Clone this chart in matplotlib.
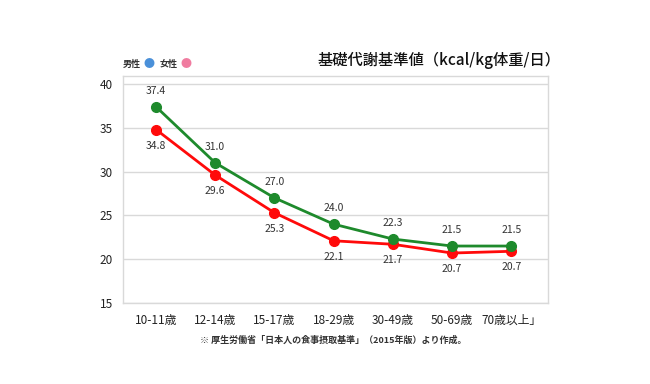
import matplotlib
matplotlib.use("Agg")
import matplotlib.pyplot as plt

plt.rcParams['font.family'] = ['Noto Sans CJK JP', 'DejaVu Sans']

categories = ["10-11歳", "12-14歳", "15-17歳", "18-29歳", "30-49歳", "50-69歳", "70歳以上」"]
male = [37.4, 31.0, 27.0, 24.0, 22.3, 21.5, 21.5]
female = [34.8, 29.6, 25.3, 22.1, 21.7, 20.7, 20.9]
male_labels = ["37.4", "31.0", "27.0", "24.0", "22.3", "21.5", "21.5"]
female_labels = ["34.8", "29.6", "25.3", "22.1", "21.7", "20.7", "20.7"]
yticks = [15, 20, 25, 30, 35, 40]

green = "#1e8a2c"
red = "#ff0a0a"

fig = plt.figure(figsize=(6.5, 3.84), dpi=100)
ax = fig.add_axes([0.189, 0.211, 0.654, 0.592])

x = list(range(len(categories)))
ax.plot(x, female, color=red, lw=2, marker='o', ms=7, zorder=3)
ax.plot(x, male, color=green, lw=2, marker='o', ms=7, zorder=4)

for xi, v, t in zip(x, male, male_labels):
    ax.annotate(t, (xi, v), xytext=(0, 8), textcoords='offset points',
                ha='center', va='bottom', fontsize=7.5, color='#333333')
for xi, v, t in zip(x, female, female_labels):
    ax.annotate(t, (xi, v), xytext=(0, -8), textcoords='offset points',
                ha='center', va='top', fontsize=7.5, color='#333333')

ax.set_xlim(-0.56, 6.62)
ax.set_ylim(15, 40.95)
ax.set_yticks(yticks)
ax.set_yticklabels([str(t) for t in yticks])
ax.set_xticks(x)
ax.set_xticklabels(categories)
ax.tick_params(axis='both', length=0, labelsize=8.5, colors='#222222')
ax.tick_params(axis='y', pad=7)
ax.tick_params(axis='x', pad=8)
ax.grid(axis='y', color='#d9d9d9', lw=1)
ax.set_axisbelow(True)
for s in ax.spines.values():
    s.set_color('#d9d9d9')
    s.set_linewidth(1)

fig.text(0.863, 0.843, "基礎代謝基準値（kcal/kg体重/日）", ha='right', va='center',
         fontsize=11, fontweight='medium', color='#111111')

fig.text(0.189, 0.833, "男性", ha='left', va='center', fontsize=6.5, fontweight='bold', color='#333333')
fig.text(0.221, 0.833, "●", ha='left', va='center', fontsize=8, color='#4a90d9')
fig.text(0.245, 0.833, "女性", ha='left', va='center', fontsize=6.5, fontweight='bold', color='#333333')
fig.text(0.277, 0.833, "●", ha='left', va='center', fontsize=8, color='#f07ca0')

fig.text(0.512, 0.115, "※ 厚生労働省「日本人の食事摂取基準」（2015年版）より作成。", ha='center', va='center',
         fontsize=6.5, fontweight='bold', color='#333333')

fig.savefig("out.png", dpi=100, facecolor='white')
